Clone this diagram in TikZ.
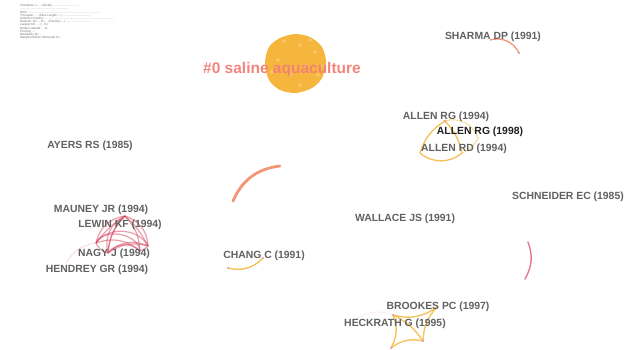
\documentclass[tikz,border=0pt]{standalone}
\usepackage{fontspec}
\setmainfont{Liberation Sans}
\definecolor{blobc}{RGB}{246,182,62}
\definecolor{titlec}{RGB}{243,128,118}
\definecolor{salm}{RGB}{242,150,118}
\definecolor{yelc}{RGB}{245,190,80}
\definecolor{paley}{RGB}{246,214,110}
\definecolor{pinkr}{RGB}{222,88,112}
\definecolor{crim}{RGB}{212,66,92}
\begin{document}
\begin{tikzpicture}[x=1pt,y=-1pt,
  lbl/.style={font=\bfseries\fontsize{10.4}{12}\selectfont, text=black!62, inner sep=0pt},
  hdr/.style={font=\fontsize{3}{3.4}\selectfont, text=black!55, inner sep=0pt, anchor=west},
  redarc/.style={draw=crim, line width=1.2pt, opacity=0.5},
  yelarc/.style={draw=yelc, line width=1.4pt, opacity=0.9}
]
\useasboundingbox (0,0) rectangle (627,349);
\fill[white] (0,0) rectangle (627,349);

% header: the reference's tiny header text is illegible at its resolution.
% Field names follow the usual CiteSpace header layout; values that cannot be
% read are left as "..." rather than invented. Replace with the real values.
\node[hdr] (h1) at (20,6) {CiteSpace, v. ... (64-bit) ...............................};
\node[hdr] (h2) at (20,9.2) {..........................................................};
\node[hdr] (h3) at (20,12.4) {WoS: ......................................................................................};
\node[hdr] (h4) at (20,15.6) {Timespan: ... (Slice Length=...) ..................................};
\node[hdr] (h5) at (20,18.8) {Selection Criteria: ...................................................................................};
\node[hdr] (h6) at (20,22) {Network: N=..., E=... (Density=...) ..............................};
\node[hdr] (h7) at (20,25.2) {Largest CC: ... (...\%)};
\node[hdr] (h8) at (20,28.4) {Nodes Labeled: ...\%};
\node[hdr] (h9) at (20,31.6) {Pruning: ...};
\node[hdr] (h10) at (20,34.8) {Modularity Q=...};
\node[hdr] (h11) at (20,38) {Weighted Mean Silhouette S=...};

% cluster blob
\fill[blobc] plot[smooth cycle] coordinates {(295,34) (310,37) (322,47) (326,62) (322,78) (312,88) (296,93) (280,90) (269,80) (265,63) (269,47) (280,38)};
\foreach \p in {(284,41),(300,45),(315,52),(278,60),(305,65),(290,75),(318,75),(300,85),(272,72),(310,40),(322,66)}
  \draw[white, opacity=0.55, line width=0.3pt] \p circle (1.3);
\node[font=\bfseries\fontsize{15.5}{18}\selectfont, text=titlec, inner sep=0pt, opacity=0.95] (c0) at (282,69) {\#0 saline aquaculture};

% coordinates for arcs
\coordinate (s1) at (490,40); \coordinate (s2) at (519,53);
\coordinate (a1) at (445,121); \coordinate (a2) at (420,153); \coordinate (a3) at (462,153); \coordinate (a4) at (478,138);
\coordinate (m1) at (233,201); \coordinate (m2) at (280,166);
\coordinate (c1) at (228,268); \coordinate (c2) at (263,258);
\coordinate (e1) at (528,242); \coordinate (e2) at (525,279);
\coordinate (k1) at (393,315); \coordinate (k2) at (437,307); \coordinate (k3) at (423,341); \coordinate (k4) at (391,348);
\coordinate (r1) at (96,243); \coordinate (r2) at (148,246); \coordinate (r3) at (125,216); \coordinate (r4) at (108,253); \coordinate (r5) at (140,251);

% Sharma arc
\draw[draw=salm, line width=1.3pt] (s1) to[bend left=40] (s2);
\fill[pinkr!70] (s2) circle (1);

% Allen arcs
\draw[yelarc] (a1) to[bend right=20] (a2);
\draw[yelarc] (a2) to[bend right=40] (a3);
\draw[yelarc] (a1) to[bend left=15] (a3);
\draw[draw=paley, line width=1pt, opacity=0.8] (a1) to[bend left=45] (a4);
\draw[draw=paley, line width=1pt, opacity=0.8] (a4) to[bend left=20] (a3);
\fill[pinkr!70] (a1) circle (1.2);

% middle arc
\draw[draw=salm, line width=2.8pt, line cap=round] (m1) to[bend left=30] (m2);

% Chang arc
\draw[draw=yelc, line width=1.3pt] (c1) to[bend right=30] (c2);
\fill[pinkr!60] (c1) circle (1.2);
\fill[pinkr!60] (c2) circle (1.2);

% Schneider arc
\draw[draw=pinkr!80, line width=1.4pt] (e1) to[bend left=25] (e2);
\fill[pinkr!60] (e1) circle (0.9);
\fill[pinkr!60] (e2) circle (0.9);

% red cluster
\draw[redarc] (r1) to[bend left=60] (r2);
\draw[redarc] (r1) to[bend left=35] (r3);
\draw[redarc] (r3) to[bend left=35] (r2);
\draw[redarc] (r4) to[bend left=40] (r3);
\draw[redarc] (r3) to[bend left=20] (r5);
\draw[redarc] (r4) to[bend left=50] (r5);
\draw[redarc] (r4) to[bend left=35] (r2);
\draw[redarc] (r1) to[bend left=30] (r5);
\draw[redarc] (r3) to[bend right=20] (r4);
\draw[redarc] (r1) to[bend right=25] (r4);
\draw[redarc] (r5) to[bend right=15] (r2);
\draw[redarc] (r4) to[bend left=25] (r2);
\draw[redarc] (r1) to[bend left=75] (r5);
\draw[redarc] (r3) to[bend left=10] (r2);
\draw[redarc] (r1) to[bend left=10] (r3);
\draw[redarc] (r4) to[bend left=20] (r3);
\draw[draw=pinkr!50, line width=0.7pt, opacity=0.5] (r1) to[bend right=25] (66,263);

% Heckrath / Brookes web
\draw[draw=pinkr!30, line width=0.5pt, opacity=0.6] (354,321) to[bend left=30] (k1);
\draw[yelarc] (k1) to[bend right=25] (k2);
\draw[yelarc] (k2) to[bend right=20] (k3);
\draw[yelarc] (k3) to[bend right=25] (k4);
\draw[yelarc] (k4) to[bend right=25] (k1);
\draw[yelarc] (k1) to[bend left=15] (k3);
\fill[pinkr!60] (k1) circle (1.2);
\fill[pinkr!60] (k3) circle (1.2);
\fill[pinkr!60] (k4) circle (1.2);

% labels
\node[lbl] (sharma) at (493,37) {SHARMA DP (1991)};
\node[lbl] (allen94) at (446,117) {ALLEN RG (1994)};
\node[lbl, text=black!88] (allen98) at (480,132) {ALLEN RG (1998)};
\node[lbl] (allenrd) at (464,149) {ALLEN RD (1994)};
\node[lbl] (ayers) at (90,146) {AYERS RS (1985)};
\node[lbl] (schneider) at (568,197) {SCHNEIDER EC (1985)};
\node[lbl] (wallace) at (405,219) {WALLACE JS (1991)};
\node[lbl] (mauney) at (101,210) {MAUNEY JR (1994)};
\node[lbl] (lewin) at (120,225) {LEWIN KF (1994)};
\node[lbl] (nagy) at (114,254) {NAGY J (1994)};
\node[lbl] (hendrey) at (97,270) {HENDREY GR (1994)};
\node[lbl] (chang) at (264,256) {CHANG C (1991)};
\node[lbl] (brookes) at (438,307) {BROOKES PC (1997)};
\node[lbl] (heckrath) at (395,324) {HECKRATH G (1995)};
\end{tikzpicture}
\end{document}
